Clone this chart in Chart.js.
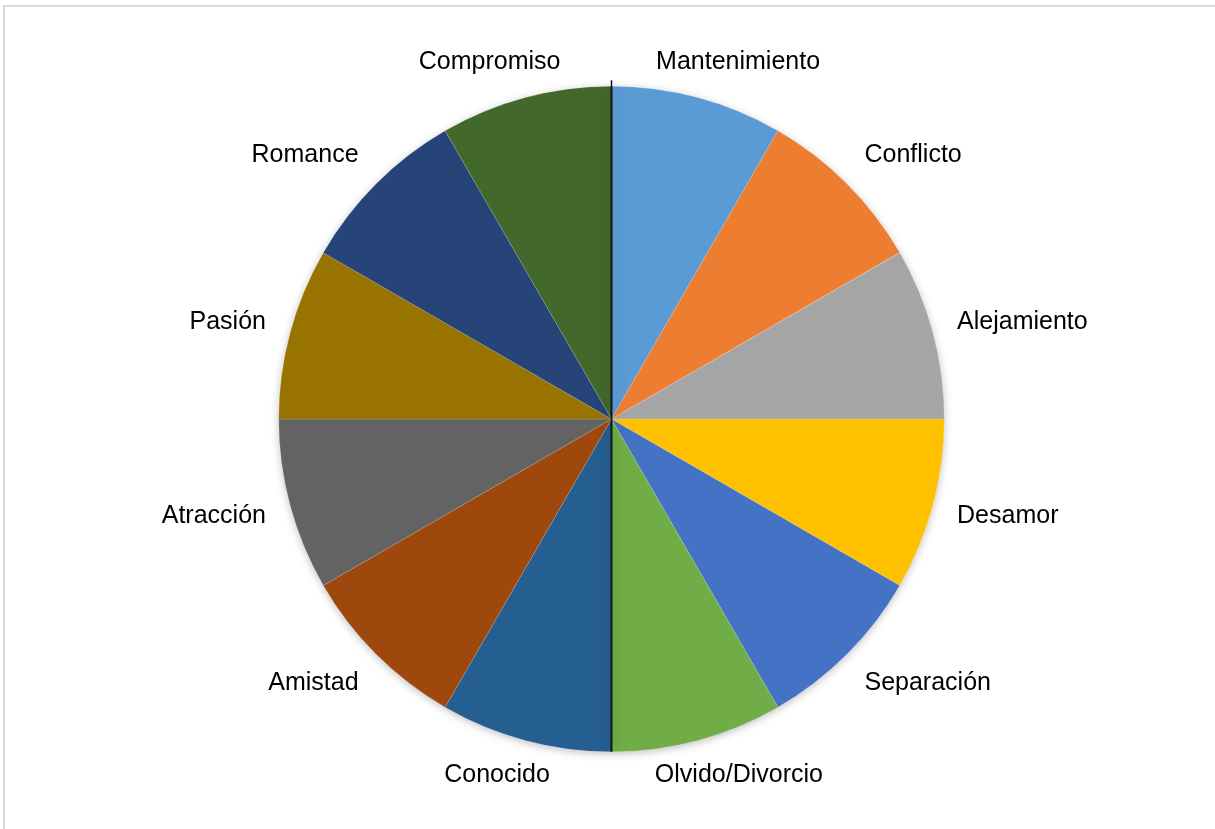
<!DOCTYPE html>
<html>
<head>
<meta charset="utf-8">
<script src="https://cdn.jsdelivr.net/npm/chart.js@4"></script>
<style>
  html, body { margin: 0; padding: 0; background: #fff; overflow: hidden; }
  #frame { position: absolute; left: 3px; top: 5px; width: 1400px; height: 1000px; border: 2px solid #d9d9d9; box-sizing: border-box; }
  #wrap { position: absolute; left: 0; top: 0; width: 1215px; height: 829px; }
</style>
</head>
<body>
<div id="frame"></div>
<div id="wrap"><canvas id="myChart"></canvas></div>
<script>
  // categories and values (12 equal slices)
  const labels = [
    'Mantenimiento', 'Conflicto', 'Alejamiento', 'Desamor', 'Separación', 'Olvido/Divorcio',
    'Conocido', 'Amistad', 'Atracción', 'Pasión', 'Romance', 'Compromiso'
  ];
  const values = [1, 1, 1, 1, 1, 1, 1, 1, 1, 1, 1, 1];
  const colors = [
    '#5B9BD5', '#ED7D31', '#A5A5A5', '#FFC000', '#4472C4', '#70AD47',
    '#255E91', '#9E480E', '#636363', '#997300', '#264478', '#43682B'
  ];

  // soft shadow under the whole pie (drawn once, behind the slices)
  const shadowPlugin = {
    id: 'shadow',
    beforeDatasetsDraw(chart) {
      const arcs = chart.getDatasetMeta(0).data;
      if (!arcs.length) return;
      const ctx = chart.ctx;
      ctx.save();
      ctx.shadowColor = 'rgba(0,0,0,0.3)';
      ctx.shadowBlur = 10;
      ctx.shadowOffsetY = 2;
      ctx.fillStyle = '#fff';
      ctx.beginPath();
      ctx.arc(arcs[0].x, arcs[0].y, arcs[0].outerRadius - 1, 0, Math.PI * 2);
      ctx.fill();
      ctx.restore();
    }
  };

  // outside labels + the thin vertical line through the center
  const labelPlugin = {
    id: 'outsideLabels',
    afterDatasetsDraw(chart) {
      const ctx = chart.ctx;
      const arcs = chart.getDatasetMeta(0).data;
      if (!arcs.length) return;
      const cx = arcs[0].x, cy = arcs[0].y, R = arcs[0].outerRadius;

      // line with a soft shadow, clipped to the pie
      ctx.save();
      ctx.beginPath();
      ctx.arc(cx, cy, R, 0, Math.PI * 2);
      ctx.clip();
      ctx.shadowColor = 'rgba(0,0,0,0.35)';
      ctx.shadowBlur = 14;
      ctx.strokeStyle = '#111';
      ctx.lineWidth = 1.5;
      ctx.beginPath();
      ctx.moveTo(cx, cy - R);
      ctx.lineTo(cx, cy + R);
      ctx.stroke();
      ctx.restore();

      ctx.save();
      ctx.strokeStyle = '#111';
      ctx.lineWidth = 1.5;
      ctx.beginPath();
      ctx.moveTo(cx, cy - R - 6);
      ctx.lineTo(cx, cy + R);
      ctx.stroke();

      ctx.font = '25px "Liberation Sans", Arial, sans-serif';
      ctx.fillStyle = '#000';
      ctx.textAlign = 'center';
      ctx.textBaseline = 'middle';
      const gap = 25, h = 22;
      const sharpen = function(v) { return Math.sign(v) * Math.min(1, Math.abs(v) * 1.6); };
      arcs.forEach(function(arc, i) {
        const mid = (arc.startAngle + arc.endAngle) / 2;
        const c = Math.cos(mid), s = Math.sin(mid);
        const w = ctx.measureText(labels[i]).width;
        const x = cx + c * (R + gap) + sharpen(c) * w / 2;
        const y = cy + s * (R + gap) + sharpen(s) * h / 2;
        ctx.fillText(labels[i], x, y);
      });
      ctx.restore();
    }
  };

  const data = {
    labels: labels,
    datasets: [{
      data: values,
      backgroundColor: colors,
      borderColor: 'rgba(255,255,255,0.25)',
      borderWidth: 0.5
    }]
  };

  const config = {
    type: 'pie',
    data: data,
    options: {
      responsive: true,
      maintainAspectRatio: false,
      animation: false,
      layout: { padding: { top: 86, bottom: 77, left: 8, right: 0 } },
      plugins: {
        legend: { display: false },
        tooltip: { enabled: false }
      }
    },
    plugins: [shadowPlugin, labelPlugin]
  };

  const myChart = new Chart(document.getElementById('myChart'), config);
</script>
</body>
</html>
